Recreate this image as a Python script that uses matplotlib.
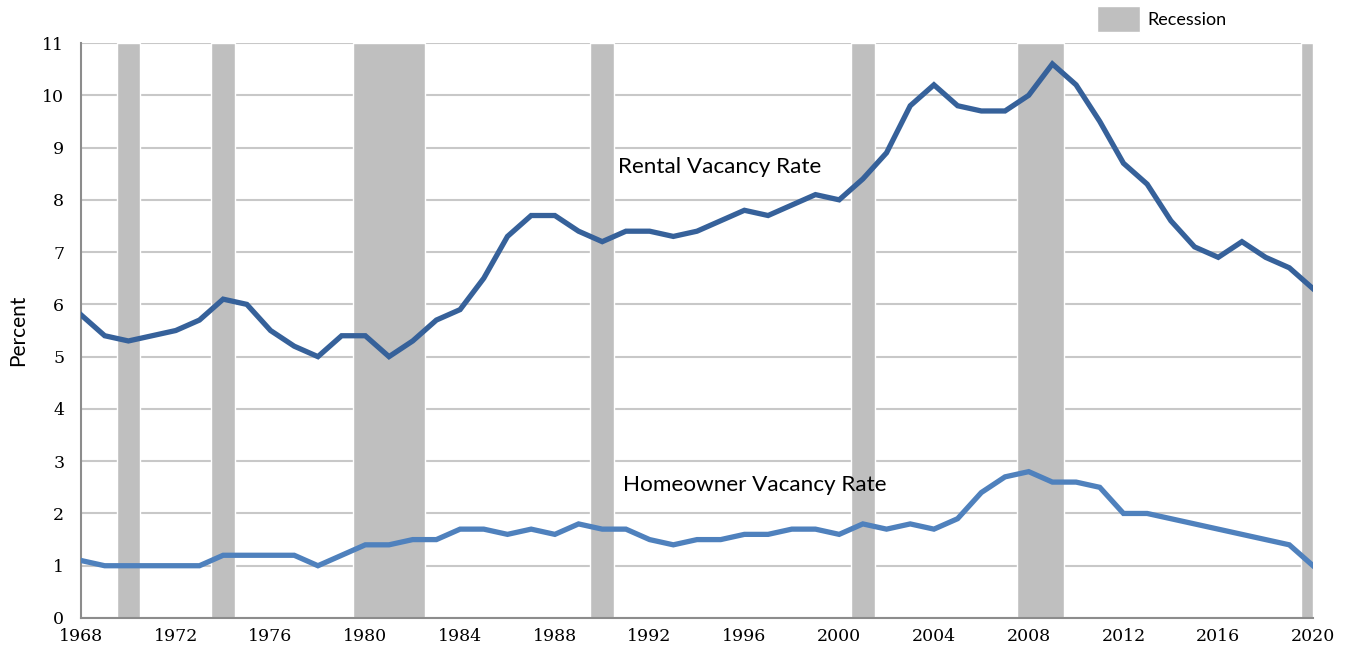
import numpy as np
import matplotlib.pyplot as plt
from matplotlib.patches import Patch

# ── Rental and homeowner vacancy rates, 1968-2020 ───────────────────────────

years = np.arange(1968, 2021)

rental = [5.8, 5.4, 5.3, 5.4, 5.5, 5.7, 6.1, 6.0, 5.5, 5.2,
          5.0, 5.4, 5.4, 5.0, 5.3, 5.7, 5.9, 6.5, 7.3, 7.7,
          7.7, 7.4, 7.2, 7.4, 7.4, 7.3, 7.4, 7.6, 7.8, 7.7,
          7.9, 8.1, 8.0, 8.4, 8.9, 9.8, 10.2, 9.8, 9.7, 9.7,
          10.0, 10.6, 10.2, 9.5, 8.7, 8.3, 7.6, 7.1, 6.9, 7.2,
          6.9, 6.7, 6.3]

homeowner = [1.1, 1.0, 1.0, 1.0, 1.0, 1.0, 1.2, 1.2, 1.2, 1.2,
             1.0, 1.2, 1.4, 1.4, 1.5, 1.5, 1.7, 1.7, 1.6, 1.7,
             1.6, 1.8, 1.7, 1.7, 1.5, 1.4, 1.5, 1.5, 1.6, 1.6,
             1.7, 1.7, 1.6, 1.8, 1.7, 1.8, 1.7, 1.9, 2.4, 2.7,
             2.8, 2.6, 2.6, 2.5, 2.0, 2.0, 1.9, 1.8, 1.7, 1.6,
             1.5, 1.4, 1.0]

# recession shading (start, end) in fractional years
rec_start = [1969.5, 1973.5, 1979.5, 1989.5, 2000.5, 2007.5, 2019.5]
rec_end   = [1970.5, 1974.5, 1982.5, 1990.5, 2001.5, 2009.5, 2020.0]

xticks = np.arange(1968, 2021, 4)
yticks = np.arange(0, 12, 1)

rental_color = "#36619A"
owner_color  = "#4F81BD"
band_color   = "#BFBFBF"

fig = plt.figure(figsize=(13.5, 6.48), dpi=100)
ax = fig.add_axes([0.06, 0.0463, 0.9126, 0.8873])

for s, e in zip(rec_start, rec_end):
    ax.axvspan(s, e, facecolor=band_color, edgecolor="white", lw=1.0, zorder=1)

ax.plot(years, rental, color=rental_color, lw=3.8, zorder=3,
        solid_joinstyle="miter")
ax.plot(years, homeowner, color=owner_color, lw=3.8, zorder=3,
        solid_joinstyle="miter")

ax.text(1990.67, 8.63, "Rental Vacancy Rate", family="Lato", fontsize=16.2,
        va="center", ha="left", zorder=4)
ax.text(1990.88, 2.54, "Homeowner Vacancy Rate", family="Lato", fontsize=16.2,
        va="center", ha="left", zorder=4)

ax.set_xlim(1968, 2020)
ax.set_ylim(0, 11)
ax.set_xticks(xticks)
ax.set_yticks(yticks)
ax.tick_params(length=0, labelsize=12.5)
for lab in ax.get_xticklabels() + ax.get_yticklabels():
    lab.set_family("DejaVu Serif")
ax.tick_params(axis="y", pad=12)
ax.tick_params(axis="x", pad=7)

ax.yaxis.grid(True, color="#C8C8C8", lw=1.5, zorder=0)
ax.set_axisbelow(True)
for side in ["top", "right"]:
    ax.spines[side].set_visible(False)
for side in ["left", "bottom"]:
    ax.spines[side].set_color("#8C8C8C")
    ax.spines[side].set_linewidth(1.5)

ax.set_ylabel("Percent", family="Lato", fontsize=15, labelpad=10)

handle = Patch(facecolor=band_color, edgecolor="white", label="Recession")
fig.legend(handles=[handle], loc="center left", bbox_to_anchor=(0.8125 - 0.0055, 0.9705),
           frameon=False, prop={"family": "Lato", "size": 13},
           handlelength=2.4, handleheight=1.8, handletextpad=0.4,
           borderaxespad=0)

fig.savefig("out.png", dpi=100)
